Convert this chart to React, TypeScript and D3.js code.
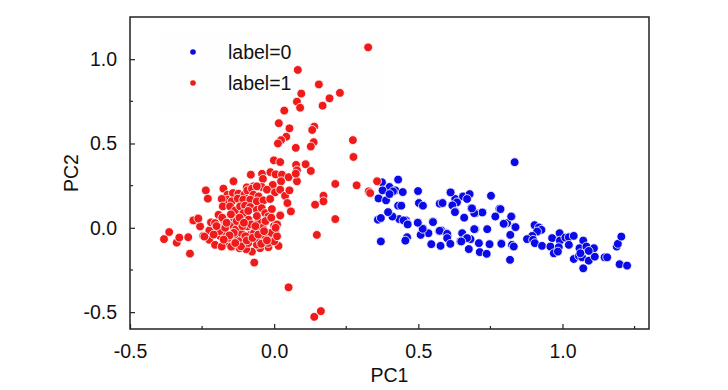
import React, { useEffect, useRef } from "react";
import * as d3 from "d3";

// PCA scores, label=0 (blue)
const label0Points: [number, number][] = [
  [0.834, 0.389], [0.374, 0.27], [0.43, 0.286], [0.4, 0.242], [0.376, 0.222],
  [0.42, 0.222], [0.446, 0.212], [0.412, 0.216], [0.362, 0.174], [0.388, 0.163],
  [0.4, 0.2], [0.499, 0.218], [0.611, 0.21], [0.628, 0.171], [0.655, 0.186],
  [0.678, 0.2], [0.752, 0.19], [0.634, 0.151], [0.669, 0.171], [0.43, 0.131],
  [0.441, 0.131], [0.502, 0.147], [0.516, 0.131], [0.574, 0.143], [0.618, 0.133],
  [0.684, 0.117], [0.698, 0.087], [0.723, 0.091], [0.781, 0.113], [0.767, 0.067],
  [0.808, 0.028], [0.397, 0.093], [0.411, 0.067], [0.36, 0.048], [0.37, 0.058],
  [0.434, 0.052], [0.457, 0.044], [0.463, 0.024], [0.499, 0.032], [0.55, 0.038],
  [0.628, 0.097], [0.659, 0.06], [0.516, -0.004], [0.535, -0.032], [0.508, -0.042],
  [0.572, -0.02], [0.58, -0.016], [0.597, -0.032], [0.602, -0.048], [0.652, -0.032],
  [0.667, -0.061], [0.681, -0.067], [0.697, -0.008], [0.739, -0.008], [0.37, -0.081],
  [0.461, -0.056], [0.455, -0.076], [0.545, -0.097], [0.646, -0.081], [0.71, -0.091],
  [0.747, -0.097], [0.627, 0.093], [0.824, 0.067], [0.797, 0.022], [0.835, 0.006],
  [0.819, -0.042], [0.824, -0.102], [0.818, -0.19], [0.722, 0.091], [0.694, 0.087],
  [0.686, 0.115], [0.694, -0.008], [0.669, -0.061], [0.649, -0.081], [0.675, -0.126],
  [0.713, -0.144], [0.737, -0.154], [0.788, -0.091], [0.551, 0.034], [0.515, -0.006],
  [0.498, 0.03], [0.449, 0.044], [0.463, 0.02], [0.41, 0.067], [0.395, 0.093],
  [0.574, -0.018], [0.6, -0.036], [0.6, -0.061], [0.577, -0.107], [0.611, -0.095],
  [0.785, 0.111], [0.822, 0.067], [0.796, 0.024], [0.837, 0.004], [0.788, -0.095],
  [0.825, -0.101], [0.831, -0.111], [0.903, 0.016], [0.918, 0.002], [0.927, -0.012],
  [0.912, -0.022], [0.895, -0.048], [0.877, -0.067], [0.898, -0.071], [0.904, -0.091],
  [0.929, -0.107], [0.964, -0.061], [0.99, -0.032], [0.991, -0.076], [0.958, -0.111],
  [0.97, -0.151], [0.987, -0.115], [0.984, -0.141], [1.01, -0.058], [1.022, -0.056],
  [1.039, -0.048], [1.022, -0.101], [1.039, -0.185], [1.057, -0.167], [1.072, -0.076],
  [1.072, -0.24], [1.074, -0.131], [1.059, -0.121], [1.083, -0.111], [1.068, -0.175],
  [1.091, -0.195], [1.112, -0.171], [1.109, -0.121], [1.091, -0.137], [1.062, -0.151],
  [1.146, -0.175], [1.155, -0.175], [1.188, -0.111], [1.192, -0.095], [1.204, -0.052],
  [1.198, -0.216], [1.224, -0.224], [0.584, 0.147], [0.612, 0.21],
];

// PCA scores, label=1 (red)
const label1Points: [number, number][] = [
  [0.326, 1.07], [0.082, 0.936], [0.155, 0.85], [0.094, 0.796], [0.228, 0.8],
  [0.079, 0.748], [0.192, 0.768], [0.09, 0.712], [0.168, 0.724], [0.035, 0.695],
  [0.016, 0.62], [0.053, 0.59], [0.139, 0.6], [0.132, 0.58], [0.042, 0.54],
  [0.024, 0.52], [0.013, 0.5], [0.137, 0.508], [0.127, 0.482], [0.075, 0.474],
  [0.273, 0.52], [0.275, 0.42], [-0.001, 0.4], [0.021, 0.39], [0.109, 0.377],
  [0.076, 0.373], [0.127, 0.337], [0.079, 0.341], [-0.081, 0.315], [-0.042, 0.32],
  [-0.013, 0.33], [0.005, 0.317], [0.027, 0.315], [0.05, 0.3], [-0.039, 0.29],
  [-0.005, 0.254], [0.024, 0.276], [0.079, 0.276], [0.212, 0.26], [0.286, 0.252],
  [0.357, 0.276], [-0.095, 0.24], [-0.072, 0.246], [-0.043, 0.242], [0.328, 0.216],
  [0.333, 0.206], [-0.141, 0.276], [-0.237, 0.222], [-0.23, 0.173], [0.075, 0.321],
  [-0.176, 0.232], [-0.162, 0.196], [-0.143, 0.206], [-0.124, 0.202], [-0.103, 0.196],
  [-0.164, 0.167], [-0.147, 0.157], [-0.126, 0.173], [-0.107, 0.167], [-0.093, 0.222],
  [-0.077, 0.232], [-0.06, 0.246], [-0.072, 0.196], [-0.054, 0.186], [-0.025, 0.226],
  [0.003, 0.21], [0.021, 0.226], [0.038, 0.19], [0.053, 0.222], [0.046, 0.147],
  [0.058, 0.097], [-0.083, 0.167], [-0.06, 0.157], [-0.037, 0.163], [-0.014, 0.171],
  [-0.182, 0.171], [-0.178, 0.127], [-0.153, 0.127], [-0.135, 0.103], [-0.118, 0.127],
  [-0.101, 0.131], [-0.083, 0.123], [-0.06, 0.107], [-0.043, 0.117], [-0.031, 0.087],
  [-0.02, 0.067], [-0.008, 0.111], [0.021, 0.077], [-0.282, 0.042], [-0.265, 0.058],
  [-0.257, 0.008], [-0.246, -0.048], [-0.225, -0.016], [-0.225, -0.071], [-0.219, 0.032],
  [-0.205, 0.028], [-0.193, 0.077], [-0.188, -0.002], [-0.188, -0.048], [-0.174, 0.044],
  [-0.17, -0.028], [-0.162, -0.091], [-0.153, 0.018], [-0.15, -0.052], [-0.147, -0.115],
  [-0.139, 0.058], [-0.132, -0.008], [-0.127, -0.071], [-0.118, 0.028], [-0.112, -0.036],
  [-0.107, 0.087], [-0.101, -0.081], [-0.093, 0.008], [-0.089, 0.048], [-0.083, -0.042],
  [-0.077, -0.141], [-0.069, -0.206], [-0.066, -0.071], [-0.06, -0.002], [-0.054, 0.038],
  [-0.046, -0.052], [-0.037, -0.088], [-0.031, -0.022], [-0.023, -0.067], [-0.014, -0.042],
  [-0.008, -0.075], [0.0, 0.012], [0.003, -0.022], [0.003, -0.061], [0.015, -0.107],
  [-0.02, -0.115], [-0.049, -0.121], [-0.382, -0.067], [-0.364, -0.025], [-0.338, -0.088],
  [-0.329, -0.058], [-0.298, -0.056], [-0.292, -0.153], [-0.242, -0.052], [-0.205, -0.101],
  [-0.182, -0.111], [-0.12, -0.121], [-0.097, -0.127], [-0.149, -0.111], [0.05, -0.353],
  [0.139, -0.528], [0.162, -0.494], [0.148, -0.042], [0.212, 0.052], [0.171, 0.19],
  [0.171, 0.157], [0.142, 0.137], [0.021, 0.073], [-0.28, 0.044], [-0.263, 0.055],
  [-0.19, -0.02], [-0.17, 0.0], [-0.16, -0.06], [-0.14, -0.03], [-0.13, 0.04],
  [-0.12, -0.08], [-0.11, 0.01], [-0.1, -0.05], [-0.09, -0.09], [-0.08, 0.02],
  [-0.07, -0.03], [-0.06, -0.1], [-0.05, -0.07], [-0.04, 0.0], [-0.03, -0.05],
  [-0.02, -0.09], [-0.01, -0.03], [0.0, -0.08], [0.01, -0.05], [-0.115, -0.11],
  [-0.095, -0.075], [-0.075, -0.06], [-0.055, -0.04], [-0.045, -0.095], [-0.025, -0.075],
  [-0.135, -0.09], [-0.155, -0.045], [-0.175, -0.07], [-0.2, 0.01], [-0.21, -0.04],
  [-0.18, 0.06], [-0.15, 0.08], [-0.12, 0.06], [-0.09, 0.1], [-0.06, 0.07],
  [-0.03, 0.04], [-0.01, 0.06], [0.01, 0.02], [-0.165, 0.03], [-0.105, 0.03],
  [-0.065, 0.01], [-0.035, -0.02], [0.005, 0.0],
];

const xTicks = [-0.5, 0.0, 0.5, 1.0];
const yTicks = [-0.5, 0.0, 0.5, 1.0];
const xMinorTicks = [-0.25, 0.25, 0.75, 1.25];
const yMinorTicks = [-0.25, 0.25, 0.75];
const legendLabels = ["label=0", "label=1"];
const seriesColors = ["#0a0ae6", "#ef1b1b"];

const W = 728;
const H = 390;
const FONT = "'Liberation Sans', Arial, sans-serif";

// plain hyphen instead of d3's unicode minus
const fmt = (d: any) => d3.format(".1f")(d).replace("\u2212", "-");

export default function App() {
  const svgRef = useRef<SVGSVGElement | null>(null);

  useEffect(() => {
    const svg = svgRef.current;
    if (!svg) return;
    const sel = d3.select(svg);
    sel.selectAll("*").remove();

    const L = 130, R = 649, T = 17, B = 329;
    const x = d3.scaleLinear().domain([-0.5, 1.3]).range([L, R]);
    const y = d3.scaleLinear().domain([-0.6, 1.25]).range([B, T]);

    // faint legend box
    sel
      .append("rect")
      .attr("x", 162)
      .attr("y", 32)
      .attr("width", 221)
      .attr("height", 78)
      .attr("fill", "#fefefe");

    const series = [label0Points, label1Points];
    series.forEach((pts, i) => {
      sel
        .append("g")
        .selectAll("circle")
        .data(pts)
        .enter()
        .append("circle")
        .attr("cx", (d) => x(d[0]))
        .attr("cy", (d) => y(d[1]))
        .attr("r", 4.4)
        .attr("fill", seriesColors[i])
        .attr("stroke", "#ffffff")
        .attr("stroke-width", 0.8);
    });

    // frame
    sel
      .append("rect")
      .attr("x", L)
      .attr("y", T)
      .attr("width", R - L)
      .attr("height", B - T)
      .attr("fill", "none")
      .attr("stroke", "#222")
      .attr("stroke-width", 1.5);

    const gx = sel.append("g").attr("transform", `translate(0,${B})`);
    gx.call(
      d3
        .axisBottom(x)
        .tickValues(xTicks)
        .tickSizeInner(-5)
        .tickSizeOuter(0)
        .tickPadding(15)
        .tickFormat(fmt)
    );
    gx.append("g")
      .selectAll("line")
      .data(xMinorTicks)
      .enter()
      .append("line")
      .attr("x1", (d) => x(d))
      .attr("x2", (d) => x(d))
      .attr("y1", 0)
      .attr("y2", -3)
      .attr("stroke", "#222")
      .attr("stroke-width", 1.2);

    const gy = sel.append("g").attr("transform", `translate(${L},0)`);
    gy.call(
      d3
        .axisLeft(y)
        .tickValues(yTicks)
        .tickSizeInner(-5)
        .tickSizeOuter(0)
        .tickPadding(13)
        .tickFormat(fmt)
    );
    gy.append("g")
      .selectAll("line")
      .data(yMinorTicks)
      .enter()
      .append("line")
      .attr("x1", 0)
      .attr("x2", 3)
      .attr("y1", (d) => y(d))
      .attr("y2", (d) => y(d))
      .attr("stroke", "#222")
      .attr("stroke-width", 1.2);

    [gx, gy].forEach((g) => {
      g.select(".domain").remove();
      g.selectAll(".tick line").attr("stroke", "#222").attr("stroke-width", 1.2);
      g.selectAll("text")
        .attr("fill", "#111")
        .attr("font-family", FONT)
        .attr("font-size", 19.5);
    });

    sel
      .append("text")
      .attr("x", (L + R) / 2)
      .attr("y", 382)
      .attr("text-anchor", "middle")
      .attr("font-family", FONT)
      .attr("font-size", 19.5)
      .attr("fill", "#111")
      .text("PC1");

    sel
      .append("text")
      .attr("transform", `translate(78,${(T + B) / 2}) rotate(-90)`)
      .attr("text-anchor", "middle")
      .attr("font-family", FONT)
      .attr("font-size", 19.5)
      .attr("fill", "#111")
      .text("PC2");

    // legend
    const lg = sel.append("g");
    legendLabels.forEach((lab, i) => {
      const cy = 52 + i * 31;
      lg.append("circle")
        .attr("cx", 193)
        .attr("cy", cy)
        .attr("r", 2.8)
        .attr("fill", seriesColors[i]);
      lg.append("text")
        .attr("x", 228)
        .attr("y", cy + 7)
        .attr("font-family", FONT)
        .attr("font-size", 19.5)
        .attr("fill", "#111")
        .text(lab);
    });
  }, []);

  return (
    <div style={{ position: "absolute", left: 0, top: 0, width: W, height: H, background: "#fff" }}>
      <svg ref={svgRef} width={W} height={H} style={{ display: "block" }} />
    </div>
  );
}
